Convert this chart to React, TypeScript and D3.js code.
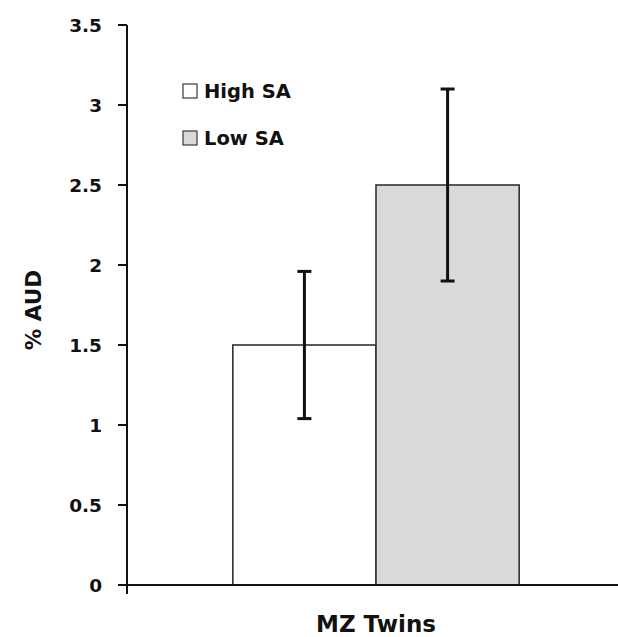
import React from "react";
import * as d3 from "d3";

const categories = ["MZ Twins"];
const seriesNames = ["High SA", "Low SA"];
const values = [1.5, 2.5];
const errLow = [1.04, 1.9];
const errHigh = [1.96, 3.1];
const yTicks = [0, 0.5, 1, 1.5, 2, 2.5, 3, 3.5];
const yTickLabels = ["0", "0.5", "1", "1.5", "2", "2.5", "3", "3.5"];
const fills = ["#ffffff", "#d9d9d9"];

const W = 618;
const H = 637;
const FONT = "'DejaVu Sans', sans-serif";

export default function App() {
  const y = d3.scaleLinear().domain([0, 3.5]).range([585, 25]);
  const x0 = d3.scaleBand<string>().domain(categories).range([127, 625]).padding(0);
  const groupW = x0.bandwidth() * 0.575;
  const center = (x0(categories[0]) ?? 0) + x0.bandwidth() / 2;
  const x1 = d3
    .scaleBand<string>()
    .domain(seriesNames)
    .range([center - groupW / 2, center + groupW / 2])
    .padding(0);
  const axisX = 127;
  const axisY = y(0);

  return (
    <svg
      width={W}
      height={H}
      style={{ position: "absolute", left: 0, top: 0, background: "#fff" }}
      fontFamily={FONT}
      fontWeight="bold"
    >
      <rect x={0} y={0} width={W} height={H} fill="#fff" />
      {/* bars */}
      {seriesNames.map((s, i) => (
        <rect
          key={s}
          x={x1(s)}
          y={y(values[i])}
          width={x1.bandwidth()}
          height={axisY - y(values[i])}
          fill={fills[i]}
          stroke="#333"
          strokeWidth={1.6}
        />
      ))}
      {/* error bars */}
      {seriesNames.map((s, i) => {
        const cx = (x1(s) ?? 0) + x1.bandwidth() / 2;
        return (
          <g key={s + "err"} stroke="#111" strokeWidth={3}>
            <line x1={cx} x2={cx} y1={y(errLow[i])} y2={y(errHigh[i])} />
            <line x1={cx - 7} x2={cx + 7} y1={y(errLow[i])} y2={y(errLow[i])} />
            <line x1={cx - 7} x2={cx + 7} y1={y(errHigh[i])} y2={y(errHigh[i])} />
          </g>
        );
      })}
      {/* y axis */}
      <line x1={axisX} x2={axisX} y1={y(3.5)} y2={axisY} stroke="#111" strokeWidth={2} />
      {yTicks.map((t, i) => (
        <g key={t}>
          <line x1={118} x2={axisX} y1={y(t)} y2={y(t)} stroke="#111" strokeWidth={2} />
          <text x={102} y={y(t)} dy="0.36em" textAnchor="end" fontSize={18.5} fill="#111">
            {yTickLabels[i]}
          </text>
        </g>
      ))}
      {/* x axis */}
      <line x1={118} x2={W + 10} y1={axisY} y2={axisY} stroke="#111" strokeWidth={2} />
      {[127, 625].map((xx) => (
        <line key={xx} x1={xx} x2={xx} y1={axisY} y2={axisY + 9} stroke="#111" strokeWidth={2} />
      ))}
      {categories.map((c) => (
        <text key={c} x={center} y={632} textAnchor="middle" fontSize={23} fill="#111">
          {c}
        </text>
      ))}
      {/* y label */}
      <text
        transform={`translate(41,310) rotate(-90)`}
        textAnchor="middle"
        fontSize={21.5}
        fill="#111"
      >
        % AUD
      </text>
      {/* legend */}
      {seriesNames.map((s, i) => (
        <g key={s + "leg"} transform={`translate(183,${84 + i * 47})`}>
          <rect x={0} y={0} width={14} height={14} fill={fills[i]} stroke="#3a3a3a" strokeWidth={1.2} />
          <text x={21} y={13.5} fontSize={19.5} fill="#111">
            {s}
          </text>
        </g>
      ))}
    </svg>
  );
}
